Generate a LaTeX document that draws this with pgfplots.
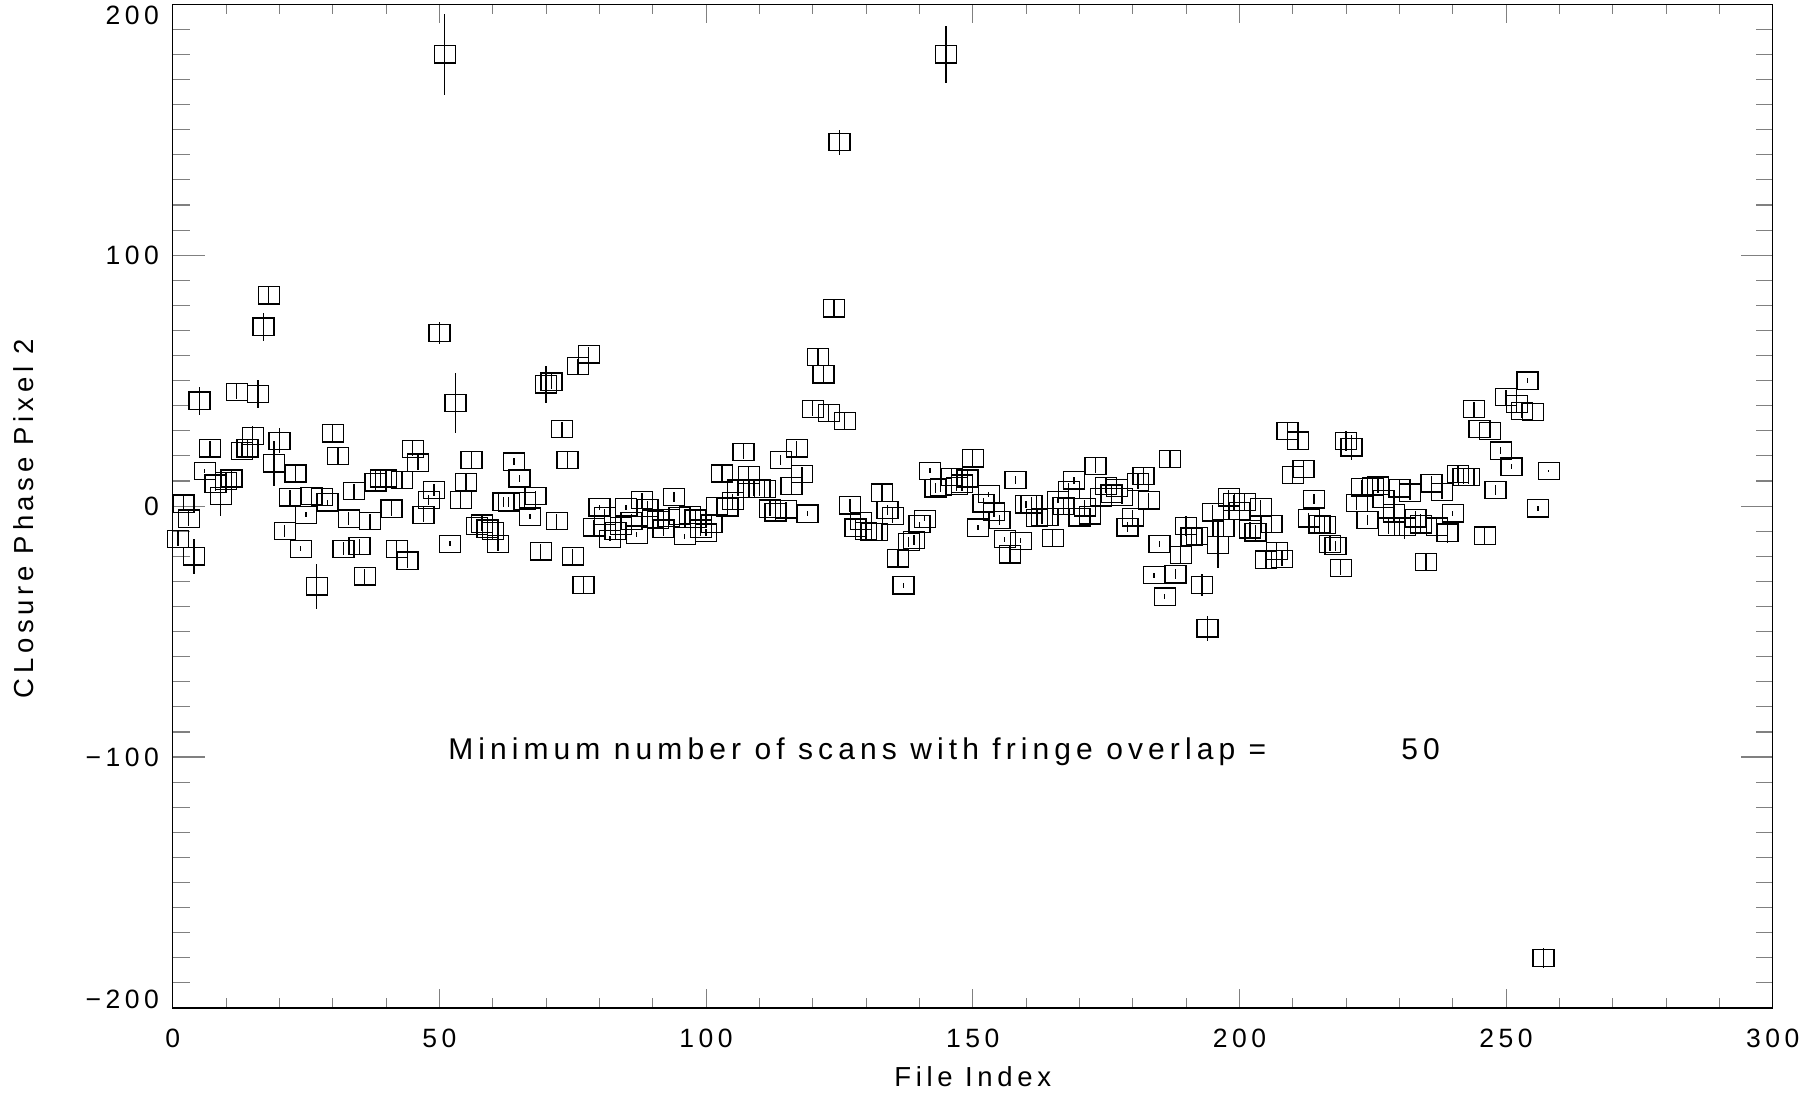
\documentclass[border=0pt]{standalone}
\usepackage{fontspec}
\usepackage{pgfplots}
\usepackage{pgfplotstable}
\pgfplotsset{compat=1.18}
\newfontfamily\hf{Liberation Sans}[LetterSpace=17]
\pgfplotstableread{
x y e
1 -13 3
2 1 3
3 -5 3
4 -20 7
5 42 5.5
6 14 0.8
7 23 3
8 9 3
9 4 8
10 10 3.5
11 11 3
12 45.5 3
13 22 3
14 23 3.5
15 28 4
16 44.6 5.6
17 71.5 5.6
18 84 3.5
19 17 9
20 26 5
21 -10 2.5
22 3.5 3
23 13 3
24 -17 1
25 -3.5 1
26 4 2.5
27 -32 9
28 3.7 2.5
29 1.5 1
30 29 3.5
31 20 3.5
32 -17 2.5
33 -5 2.5
34 6 3
35 -16 3
36 -28 3
37 -6 3
38 9.5 3
39 11 3
40 11 3
41 -1 3
42 -17 3
43 10.4 3
44 -21.7 3
45 22.8 3
46 17.3 3
47 -3.5 3
48 2.4 2
49 6.4 2.5
50 69 4.5
51 180 16
52 -15 1
53 41 12
54 2.4 3.5
55 9.5 3.5
56 18.4 3.5
57 -8 3
58 -7 3
59 -9 3
60 -10 3
61 -15 3
62 1.8 2
63 1.5 2
64 17.7 1.5
65 11 1.5
66 2 3
67 -4.2 1
68 4 2
69 -18 3
70 48.5 7.5
71 49.6 3
72 -6 3
73 30.7 3
74 18.4 3.5
75 -20 3
76 55.8 3
77 -31.4 3.5
78 60.5 3
79 -8.5 3
80 -0.5 1
81 -4 3
82 -13 1
83 -10 3
84 -8 3
85 -0.5 1
86 -6 3
87 -11.4 1
88 2.4 3
89 -0.8 3
90 -5 3
91 -5.5 3
92 -9 3
93 -4.8 3
94 3.7 2
95 -4 3
96 -12 1
97 -3.5 2
98 -5 3
99 -9 3
100 -10.6 1.5
101 -7 3
102 0 3
103 13 3.5
104 -0.5 3
105 2 3
106 7 3
107 21.6 3
108 12.5 3
109 7 3
110 7 3
111 6.8 1
112 -1 3
113 -2.5 3
114 18.4 2
115 -1.3 3
116 8 3
117 23 3
118 12.7 3
119 -3 1
120 38.8 3
121 59.5 3.5
122 52.5 3.5
123 37.2 3.5
124 78.8 3.5
125 145 5
126 34 3.5
127 0.3 2.5
128 -8.6 3
129 -6 3
130 -10 3
131 -10.3 3
132 -10.3 3
133 5.4 3.5
134 -1.6 2
135 -3.9 3
136 -20.8 3.5
137 -31.6 1
138 -14.2 2
139 -13.5 2
140 -7.2 1
141 -5.1 1
142 14 1
143 7.1 2
144 7.7 2
145 180 11.5
146 11.7 3
147 8 2
148 9 3
149 11 3
150 19 3.5
151 -8.6 1
152 1.1 2
153 4.8 1
154 -2.2 2
155 -5.5 2
156 -13.2 1
157 -19.2 3.5
158 10.4 1.5
159 -13.8 1
160 0.7 1.5
161 0.7 3
162 -4.8 3
163 -4.3 3
164 -4.3 3
165 -12.8 3.5
166 2.4 1
167 0 3
168 6.4 3
169 10.3 1.5
170 -4.5 3
171 -0.5 3
172 -3.7 3
173 16 3
174 3.5 3
175 8.1 3
176 5 3
177 7.3 3
178 3.7 3
179 -8.5 2
180 -4.5 3
181 9.7 3
182 12 3
183 2.3 3
184 -27.5 1
185 -15.1 1
186 -36.1 1
187 18.8 3.5
188 -27.2 2
189 -19.5 3.5
190 -7.9 4
191 -12.2 4
192 -11.9 4
193 -31.4 4.5
194 -48.7 5
195 -2.5 3
196 -15.5 9
197 -8.8 3
198 3.5 3
199 1.6 3
200 -2 3
201 1.6 3
202 -9.3 3
203 -10.5 3
204 -0.5 3
205 -21.3 3.5
206 -7.2 3.5
207 -17.8 3.5
208 -21 3
209 30 3.5
210 12.4 3
211 26.1 3.5
212 14.8 3.5
213 -4.9 2
214 2.7 2
215 -7.3 3
216 -7.5 3
217 -15 3
218 -16 2
219 -24.6 3
220 26 4
221 23.4 5
222 1.3 3
223 7.5 3
224 -5.5 2
225 7.8 3
226 8.2 3
227 2.9 3
228 -8.2 3
229 -2.9 3
230 7.1 3.5
231 -8.2 5
232 5.4 3
233 -4.9 3
234 -7.3 4
235 -22.2 3.5
236 9.1 3
237 -8.2 3
238 5.7 3
239 -10.6 4
240 -2.9 1
241 12.8 3
242 11.7 3
243 11.7 3
244 38.6 3
245 30.7 3
246 -11.8 3.5
247 30 3
248 6.4 2
249 22.1 1.5
250 43.4 3
251 15.7 1
252 40.7 3
253 38 3
254 50 1
255 37.6 3
256 -0.9 1
257 -180 4
258 14 0.5
}\datatable
\begin{document}
\begin{tikzpicture}
\path[use as bounding box] (0,0) rectangle (722.4pt,438pt);
\begin{axis}[
  at={(69.1pt,34.8pt)}, anchor=south west,
  scale only axis, width=640pt, height=401.5pt,
  xmin=0, xmax=300, ymin=-200, ymax=200,
  axis line style={line width=0.45pt},
  xtick={0,50,...,300},
  xticklabels={0,50,100,150,200,250,300},
  ytick={-200,-100,0,100,200},
  yticklabels={\raisebox{-0.4pt}[0pt][0pt]{−200},−100,0,100,\raisebox{-8pt}[0pt][0pt]{200}},
  minor x tick num=4,
  minor y tick num=9,
  tick align=inside,
  major tick length=12.8pt,
  minor tick length=6.7pt,
  xtick style={/pgfplots/major tick length=7.6pt,/pgfplots/minor tick length=4pt,line width=0.45pt},
  ytick style={line width=0.45pt},
  tick label style={font=\hf\fontsize{10.6}{12}\selectfont},
  xticklabel style={yshift=-5pt},
  yticklabel style={xshift=-2pt},
  clip=false,
]
\addplot[only marks, mark=square, mark size=4.2pt,
  mark options={yscale=0.82, line width=0.5pt, black},
  error bars/.cd, y dir=both, y explicit, error mark=none,
  error bar style={line width=0.5pt, black}]
  table[x=x, y=y, y error=e] {\datatable};
\node[font=\hf\fontsize{12}{14}\selectfont, anchor=base west] at (axis cs:50,-101) {Minimum number of scans with fringe overlap =};
\node[font=\hf\fontsize{12}{14}\selectfont, anchor=base west] at (axis cs:228.7,-101) {50};
\node[font=\hf\fontsize{11}{13}\selectfont] at (axis cs:150,-227.5) {File Index};
\node[font=\hf\fontsize{11}{13}\selectfont, rotate=90] at (axis cs:-28,-5) {CLosure Phase Pixel 2};
\end{axis}
\end{tikzpicture}
\end{document}
